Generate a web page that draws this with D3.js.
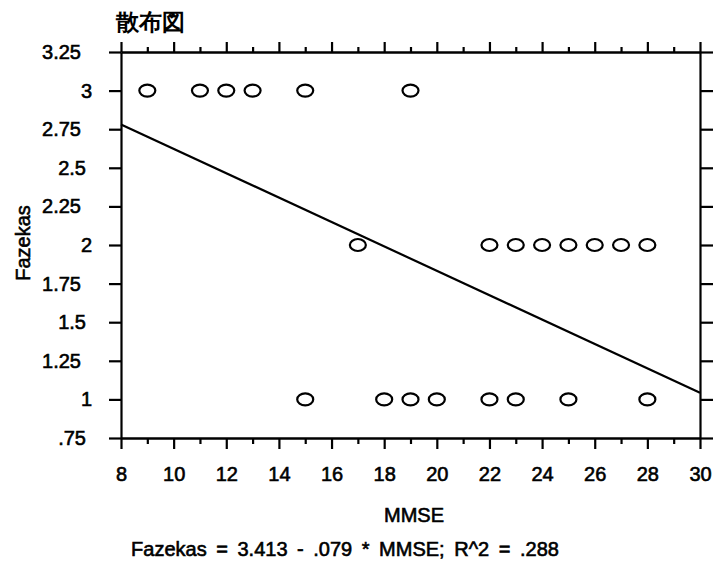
<!DOCTYPE html>
<html>
<head>
<meta charset="utf-8">
<script src="https://cdn.jsdelivr.net/npm/d3@7"></script>
<style>
  body { margin: 0; background: #fff; }
  text { font-family: "Liberation Sans", Arial, sans-serif; fill: #000; }
</style>
</head>
<body>
<div id="chart"></div>
<script>
// data
var mmse3 = [9, 11, 12, 13, 15, 19];
var mmse2 = [17, 22, 23, 24, 25, 26, 27, 28];
var mmse1 = [15, 18, 19, 20, 22, 23, 25, 28];
var fazekasLevels = [3, 2, 1];
var xTicks = [8, 10, 12, 14, 16, 18, 20, 22, 24, 26, 28, 30];
var xMinor = [9, 11, 13, 15, 17, 19, 21, 23, 25, 27, 29];
var yTicks = [3.25, 3, 2.75, 2.5, 2.25, 2, 1.75, 1.5, 1.25, 1, .75];
var yTickLabels = ["3.25", "3", "2.75", "2.5", "2.25", "2", "1.75", "1.5", "1.25", "1", ".75"];
var fit = {intercept: 3.413, slope: -0.079, r2: ".288"};

var width = 713, height = 565;
var svg = d3.select("#chart")
  .append("svg")
    .attr("width", width)
    .attr("height", height);

var x = d3.scaleLinear().domain([8, 30]).range([121, 700]);
var y = d3.scaleLinear().domain([0.75, 3.25]).range([438, 52]);

// points table
var points = [];
[mmse3, mmse2, mmse1].forEach(function(arr, i) {
  arr.forEach(function(v) { points.push({x: v, y: fazekasLevels[i]}); });
});

function styleAxis(g) {
  g.selectAll("path.domain").attr("stroke", "#000").attr("stroke-width", 2.2);
  g.selectAll(".tick line").attr("stroke", "#000").attr("stroke-width", 2.2);
}

function labelStyle(sel, size) {
  sel.attr("font-size", size).attr("stroke", "#000").attr("stroke-width", 0.6);
}

// bottom axis, major + minor
var bottom = svg.append("g")
  .attr("transform", "translate(0," + y(0.75) + ")")
  .call(d3.axisBottom(x).tickValues(xTicks).tickSize(11).tickSizeOuter(0).tickPadding(18).tickFormat(d3.format("d")))
  .call(styleAxis);
bottom.selectAll(".tick text").call(labelStyle, 20);
svg.append("g")
  .attr("transform", "translate(0," + y(0.75) + ")")
  .call(d3.axisBottom(x).tickValues(xMinor).tickSize(6).tickSizeOuter(0).tickFormat(""))
  .call(styleAxis);

// top axis
svg.append("g")
  .attr("transform", "translate(0," + y(3.25) + ")")
  .call(d3.axisTop(x).tickValues(xTicks).tickSize(10).tickSizeOuter(0).tickFormat(""))
  .call(styleAxis);
svg.append("g")
  .attr("transform", "translate(0," + y(3.25) + ")")
  .call(d3.axisTop(x).tickValues(xMinor).tickSize(5).tickSizeOuter(0).tickFormat(""))
  .call(styleAxis);

// left axis
var left = svg.append("g")
  .attr("transform", "translate(" + x(8) + ",0)")
  .call(d3.axisLeft(y).tickValues(yTicks).tickSize(12).tickSizeOuter(0).tickPadding(17)
    .tickFormat(function(d, i) { return yTickLabels[i]; }))
  .call(styleAxis);
left.selectAll(".tick text")
  .call(labelStyle, 20)
  .attr("dx", function() {
    var n = this.textContent.length;
    return n === 1 ? 0 : (n === 3 ? -6 : -11);
  });

// right axis
svg.append("g")
  .attr("transform", "translate(" + x(30) + ",0)")
  .call(d3.axisRight(y).tickValues(yTicks).tickSize(13).tickSizeOuter(0).tickFormat(""))
  .call(styleAxis);

// regression line
svg.append("line")
  .attr("x1", x(8)).attr("y1", y(fit.intercept + fit.slope * 8))
  .attr("x2", x(30)).attr("y2", y(fit.intercept + fit.slope * 30))
  .attr("stroke", "#000").attr("stroke-width", 2.2);

// points
svg.selectAll("ellipse.pt")
  .data(points)
  .enter()
  .append("ellipse")
    .attr("class", "pt")
    .attr("cx", function(d) { return x(d.x); })
    .attr("cy", function(d) { return y(d.y); })
    .attr("rx", 8)
    .attr("ry", 6)
    .attr("fill", "none")
    .attr("stroke", "#000")
    .attr("stroke-width", 2.2);

// title
svg.append("text")
  .attr("x", 116).attr("y", 30)
  .attr("font-family", "Noto Sans CJK JP")
  .attr("font-weight", "bold")
  .attr("font-size", 23)
  .text("散布図");

// axis labels
svg.append("text")
  .attr("x", 414).attr("y", 522)
  .attr("text-anchor", "middle")
  .call(labelStyle, 20)
  .text("MMSE");

svg.append("text")
  .attr("transform", "translate(30,243) rotate(-90)")
  .attr("text-anchor", "middle")
  .call(labelStyle, 20)
  .text("Fazekas");

svg.append("text")
  .attr("x", 345).attr("y", 556)
  .attr("text-anchor", "middle")
  .call(labelStyle, 20)
  .attr("word-spacing", 4)
  .text("Fazekas = " + fit.intercept + " - " + d3.format(".3f")(-fit.slope).slice(1) + " * MMSE; R^2 = " + fit.r2);
</script>
</body>
</html>
